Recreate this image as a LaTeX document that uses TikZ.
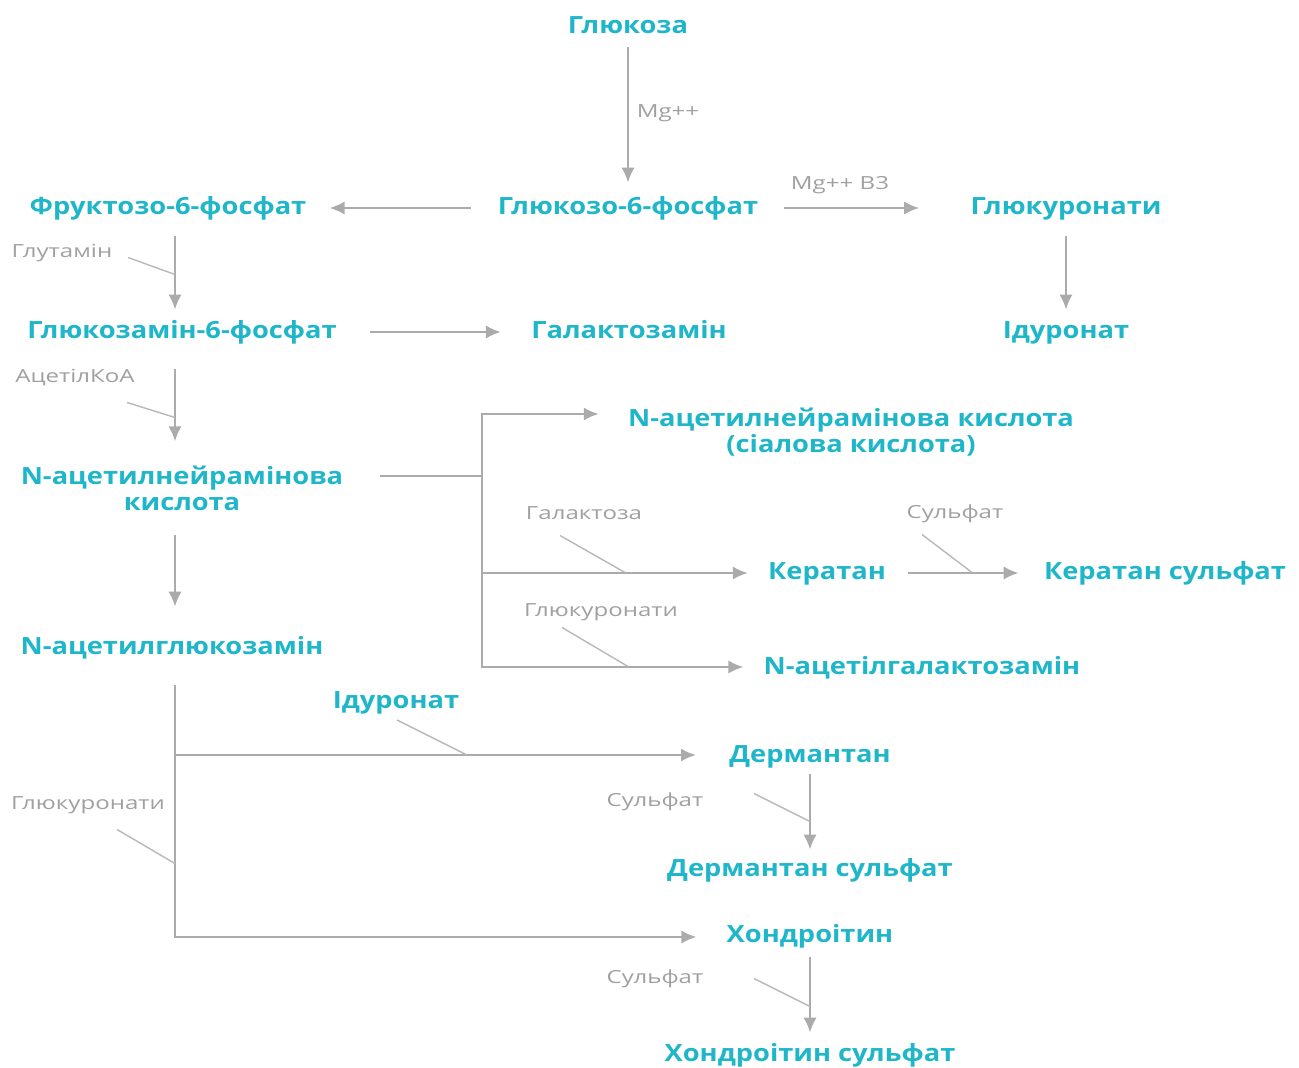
\documentclass[tikz,border=0pt]{standalone}
\usepackage{fontspec}
\setmainfont{Open Sans}
\newfontfamily\subsfont[FakeStretch=1.15]{Open Sans}
\newfontfamily\cofont[FakeStretch=1.33]{Open Sans}
\usetikzlibrary{arrows.meta}
\definecolor{subcol}{HTML}{1FB6CA}
\definecolor{linecol}{HTML}{ABABAB}
\definecolor{cocol}{HTML}{A0A0A0}
\tikzset{
  sub/.style={text=subcol,font=\subsfont\bfseries\fontsize{13.5}{14.7}\selectfont,inner sep=0pt,text height=0.34cm,text depth=0.08cm,yshift=-0.04cm},
  subtwo/.style={text=subcol,font=\subsfont\bfseries\fontsize{13.5}{14.7}\selectfont,inner sep=0pt,align=center,yshift=-0.04cm},
  co/.style={text=cocol,font=\cofont\fontsize{10.3}{12}\selectfont,inner sep=0pt,yshift=-0.03cm},
  link/.style={draw=linecol,line width=1.3pt,line cap=rect},
  arr/.style={link,-{Latex[length=8.5pt,width=7.5pt]}},
  tick/.style={draw=linecol!85,line width=0.8pt},
}
\begin{document}
\begin{tikzpicture}[x=0.02cm,y=-0.02cm]
\useasboundingbox (0,0) rectangle (1299,1068);
% substances
\node[sub] (glc) at (628,25) {Глюкоза};
\node[sub] (g6p) at (628,206) {Глюкозо-6-фосфат};
\node[sub] (f6p) at (168,206) {Фруктозо-6-фосфат};
\node[sub] (gcr) at (1066,206) {Глюкуронати};
\node[sub] (idr) at (1066,330) {Ідуронат};
\node[sub] (gn6p) at (182,330) {Глюкозамін-6-фосфат};
\node[sub] (galn) at (629,330) {Галактозамін};
\node[subtwo] (nan) at (182,486) {N-ацетилнейрамінова\\кислота};
\node[subtwo] (sia) at (851,430) {N-ацетилнейрамінова кислота\\(сіалова кислота)};
\node[sub] (nglc) at (172,646) {N-ацетилглюкозамін};
\node[sub] (ker) at (827,571) {Кератан};
\node[sub] (ksf) at (1165,571) {Кератан сульфат};
\node[sub] (ngal) at (922,666) {N-ацетілгалактозамін};
\node[sub] (idr2) at (396,700) {Ідуронат};
\node[sub] (der) at (810,754) {Дермантан};
\node[sub] (dsf) at (810,868) {Дермантан сульфат};
\node[sub] (chn) at (810,934) {Хондроітин};
\node[sub] (csf) at (810,1053) {Хондроітин сульфат};
% cofactors
\node[co] (mg) at (668,112) {Mg++};
\node[co] (mgb) at (840,184) {Mg++ B3};
\node[co] (glt) at (62,252) {Глутамін};
\node[co] (aco) at (75,376) {АцетілКоА};
\node[co] (gal) at (584,512) {Галактоза};
\node[co] (sk) at (955,512) {Сульфат};
\node[co] (gk) at (601,611) {Глюкуронати};
\node[co] (gl) at (88,804) {Глюкуронати};
\node[co] (sd) at (655,800) {Сульфат};
\node[co] (sc) at (655,977) {Сульфат};
% branch points
\coordinate (lx) at (175,0);
\coordinate (jn) at (482,476);
\coordinate (jt) at (482,414);
\coordinate (jk) at (482,573);
\coordinate (jg) at (482,667);
\coordinate (jd) at (175,755);
\coordinate (jc) at (175,937);
% reactions
\draw[arr,shorten <=0.21cm,shorten >=0.29cm] (glc.south) -- (g6p.north);
\draw[arr,shorten <=0.56cm,shorten >=0.46cm] (g6p.west) -- (f6p.east);
\draw[arr,shorten <=0.54cm,shorten >=1.02cm] (g6p.east) -- (gcr.west);
\draw[arr,shorten <=0.37cm,shorten >=0.23cm] (gcr.south) -- (idr.north);
\draw[arr,shorten <=0.37cm,shorten >=0.23cm] (f6p.south -| lx) -- (gn6p.north -| lx);
\draw[arr,shorten <=0.68cm,shorten >=0.6cm] (gn6p.east) -- (galn.west);
\draw[arr,shorten <=0.55cm,shorten >=0.48cm] (gn6p.south -| lx) -- (nan.north -| lx);
\draw[arr,shorten <=0.51cm,shorten >=0.61cm] (nan.south -| lx) -- (nglc.north -| lx);
\draw[link,shorten <=0.76cm] (nan.east |- jn) -- (jn);
\draw[arr,shorten >=0.58cm] (jg) -- (jt) -- (jt -| sia.west);
\draw[arr,shorten >=0.4cm] (jk) -- (jk -| ker.west);
\draw[arr,shorten >=0.4cm] (jg) -- (jg -| ngal.west);
\draw[arr,shorten <=0.46cm,shorten >=0.5cm] (ker.east |- jk) -- (ksf.west |- jk);
\draw[link,shorten <=0.55cm] (nglc.south -| lx) -- (jc);
\draw[arr,shorten >=0.66cm] (jd) -- (jd -| der.west);
\draw[arr,shorten >=0.6cm] (jc) -- (jc -| chn.west);
\draw[arr,shorten <=0.17cm,shorten >=0.19cm] (der.south) -- (dsf.north);
\draw[arr,shorten <=0.23cm,shorten >=0.23cm] (chn.south) -- (csf.north);
% cofactor ticks
\foreach \lab/\dx/\dy/\ex/\ey in {glt/66/4/47/17, aco/52/25/48/15, gal/-24/22/65/37,
    sk/-33/21/50/38, gk/-39/15/66/39, idr2/1/18/70/35, gl/29/24/58/34,
    sd/99/-8/56/28, sc/99/0/56/28}
  \draw[tick] (\lab) ++(\dx,\dy) -- ++(\ex,\ey);
\end{tikzpicture}
\end{document}
